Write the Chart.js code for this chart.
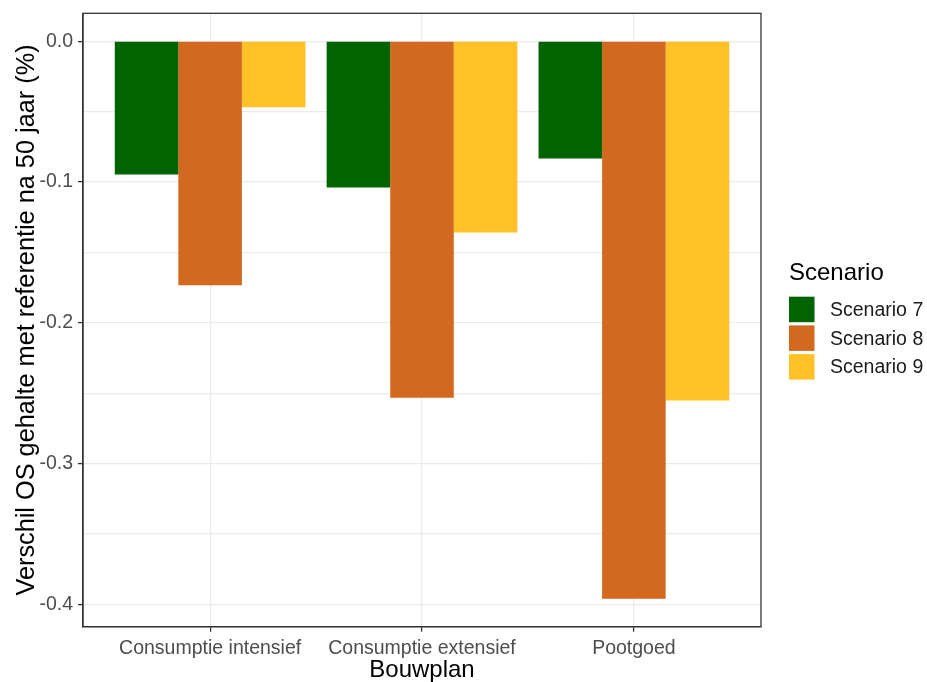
<!DOCTYPE html>
<html>
<head>
<meta charset="utf-8">
<script src="https://cdn.jsdelivr.net/npm/chart.js@4.4.1/dist/chart.umd.min.js"></script>
<style>
  html, body { margin: 0; padding: 0; background: #ffffff; }
  #wrap { position: relative; width: 927px; height: 682px; }
</style>
</head>
<body>
<div id="wrap"><canvas id="c"></canvas></div>
<script>
// ---- data ----
const categories = ['Consumptie intensief', 'Consumptie extensief', 'Pootgoed'];
const seriesNames = ['Scenario 7', 'Scenario 8', 'Scenario 9'];
const scenario7 = [-0.0947, -0.1039, -0.0833];
const scenario8 = [-0.1733, -0.2533, -0.3960];
const scenario9 = [-0.0469, -0.1359, -0.2552];
const seriesColors = ['#006400', '#D2691E', '#FFC125'];
const yMajorTicks = [0, -0.1, -0.2, -0.3, -0.4];
const yMinorTicks = [-0.05, -0.15, -0.25, -0.35];
const yTickLabels = ['0.0', '-0.1', '-0.2', '-0.3', '-0.4'];
const xTitle = 'Bouwplan';
const yTitle = 'Verschil OS gehalte met referentie na 50 jaar (%)';
const legendTitle = 'Scenario';

// ---- derived (ggplot-like expansion) ----
const allValues = [...scenario7, ...scenario8, ...scenario9, 0];
const dMin = Math.min(...allValues), dMax = Math.max(...allValues);
const span = dMax - dMin;
const yMin = dMin - 0.05 * span;
const yMax = dMax + 0.05 * span;

const seriesValues = [scenario7, scenario8, scenario9];
const datasets = seriesNames.map((name, i) => ({
  label: name,
  data: categories.map((c, j) => ({ x: j + 1, y: seriesValues[i][j] })),
  backgroundColor: seriesColors[i],
  borderWidth: 0,
  categoryPercentage: 0.9,
  barPercentage: 1.0
}));

const isMajor = v => yMajorTicks.some(m => Math.abs(m - v) < 1e-9);
const TXT = "'Liberation Sans', Arial, sans-serif";
Chart.defaults.font.family = TXT;

const frame = {
  id: 'frame',
  afterDatasetsDraw(chart) {
    const a = chart.chartArea, ctx = chart.ctx;
    ctx.save();
    ctx.strokeStyle = '#333333';
    ctx.lineWidth = 1.3;
    ctx.strokeRect(a.left, a.top, a.right - a.left, a.bottom - a.top);
    ctx.restore();
  }
};

const legendPlugin = {
  id: 'ggLegend',
  afterDraw(chart) {
    const ctx = chart.ctx;
    const a = chart.chartArea;
    const x0 = a.right + 28;
    const keySize = 25.5, step = 28.7;
    const firstTop = 296.7;
    ctx.save();
    ctx.fillStyle = '#000000';
    ctx.font = '24px ' + TXT;
    ctx.textBaseline = 'middle';
    ctx.textAlign = 'left';
    ctx.fillText(legendTitle, x0, 273);
    ctx.font = '19.5px ' + TXT;
    chart.data.datasets.forEach((ds, i) => {
      const top = firstTop + i * step;
      ctx.fillStyle = ds.backgroundColor;
      ctx.fillRect(x0, top, keySize, keySize);
      ctx.fillStyle = '#1a1a1a';
      ctx.fillText(ds.label, x0 + 41, top + keySize / 2 + 1);
    });
    ctx.restore();
  }
};

new Chart(document.getElementById('c'), {
  type: 'bar',
  data: { datasets },
  options: {
    responsive: true,
    maintainAspectRatio: false,
    animation: false,
    layout: { padding: { left: 0, top: 13.3, right: 166, bottom: 0 } },
    plugins: { legend: { display: false }, tooltip: { enabled: false } },
    scales: {
      x: {
        type: 'linear',
        min: 0.4,
        max: 3.6,
        offset: false,
        afterBuildTicks(scale) { scale.ticks = categories.map((c, i) => ({ value: i + 1 })); },
        afterFit(scale) { scale.height = 55.3; scale.paddingLeft = 0; scale.paddingRight = 0; },
        grid: { offset: false, color: '#EBEBEB', lineWidth: 1.2, tickLength: 5, tickColor: '#333333', tickWidth: 1.3 },
        border: { display: true, color: '#333333', width: 1.3 },
        ticks: {
          autoSkip: false,
          maxRotation: 0,
          padding: 5,
          color: '#4D4D4D',
          font: { size: 19.5 },
          callback: (v) => categories[Math.round(v) - 1]
        },
        title: { display: true, text: xTitle, color: '#000000', font: { size: 24 }, padding: { top: 0, bottom: -3 } }
      },
      y: {
        type: 'linear',
        min: yMin,
        max: yMax,
        afterBuildTicks(scale) {
          scale.ticks = [...yMajorTicks, ...yMinorTicks].sort((a, b) => a - b).map(v => ({ value: v }));
        },
        afterFit(scale) { scale.width = 83; scale.paddingTop = 0; scale.paddingBottom = 0; },
        grid: {
          color: '#EBEBEB',
          lineWidth: 1.2,
          tickLength: 5,
          tickWidth: 1.3,
          tickColor: (ctx) => (ctx.tick && isMajor(ctx.tick.value)) ? '#333333' : 'rgba(0,0,0,0)'
        },
        border: { display: true, color: '#333333', width: 1.3 },
        ticks: {
          autoSkip: false,
          padding: 5,
          color: '#4D4D4D',
          font: { size: 19.5 },
          callback: (v) => {
            const k = yMajorTicks.findIndex(m => Math.abs(m - v) < 1e-9);
            return k >= 0 ? yTickLabels[k] : '';
          }
        },
        title: { display: true, text: yTitle, color: '#000000', font: { size: 25.3 }, padding: { top: 12, bottom: 0 } }
      }
    }
  },
  plugins: [frame, legendPlugin]
});
</script>
</body>
</html>
